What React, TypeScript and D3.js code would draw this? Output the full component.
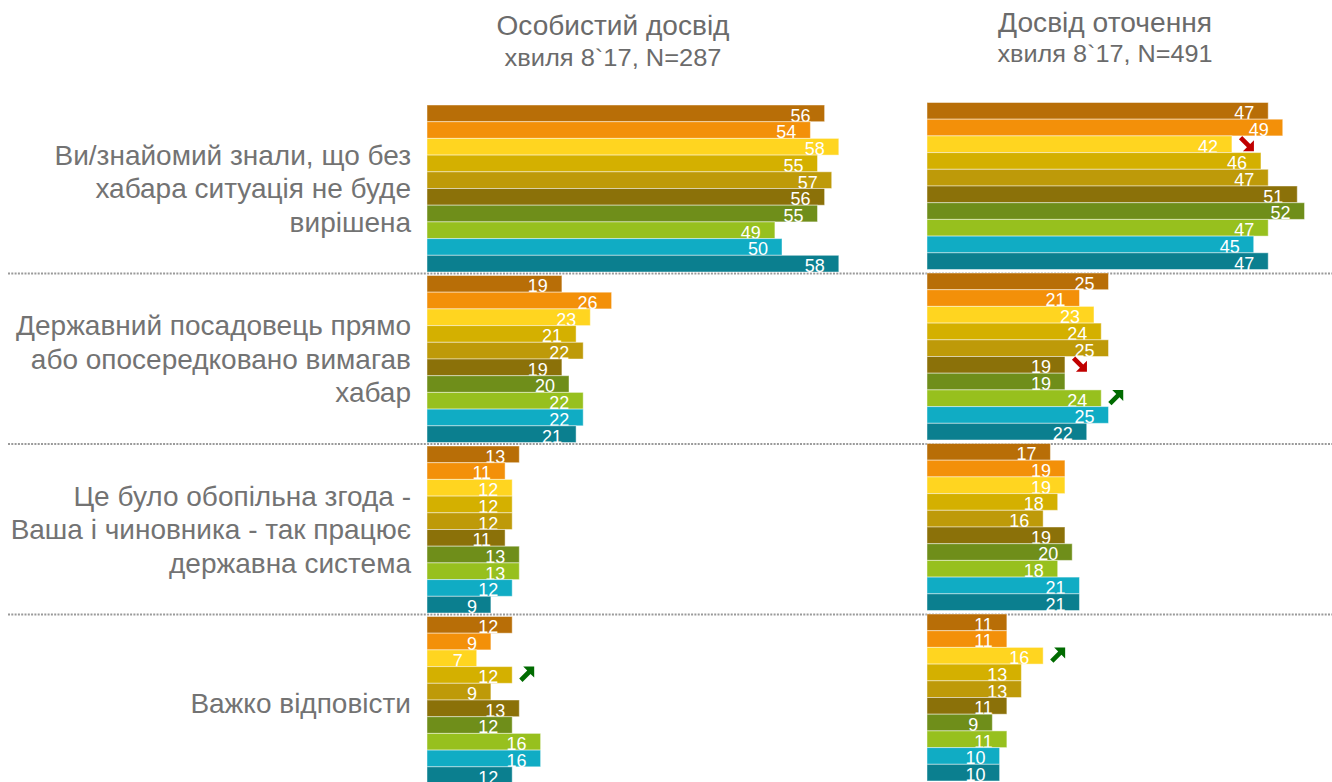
import React from "react";
import * as d3 from "d3";

const W = 1332;
const H = 782;

const categories = [
  ["Ви/знайомий знали, що без", "хабара ситуація не буде", "вирішена"],
  ["Державний посадовець прямо", "або опосередковано вимагав", "хабар"],
  ["Це було обопільна згода -", "Ваша і чиновника - так працює", "державна система"],
  ["Важко відповісти"],
];

const seriesIds = ["s1", "s2", "s3", "s4", "s5", "s6", "s7", "s8", "s9", "s10"];
const seriesColors = [
  "#B86E07", "#F39009", "#FFD520", "#D4B000", "#BE9A09",
  "#8B7109", "#6F8E1A", "#97C01E", "#10ACC4", "#0B7F8F",
];

const panelTitles = ["Особистий досвід", "Досвід оточення"];
const panelSubtitles = ["хвиля 8`17, N=287", "хвиля 8`17, N=491"];

// personal experience, per category, per series
const personal = [
  [56, 54, 58, 55, 57, 56, 55, 49, 50, 58],
  [19, 26, 23, 21, 22, 19, 20, 22, 22, 21],
  [13, 11, 12, 12, 12, 11, 13, 13, 12, 9],
  [12, 9, 7, 12, 9, 13, 12, 16, 16, 12],
];
// surroundings experience
const surroundings = [
  [47, 49, 42, 46, 47, 51, 52, 47, 45, 47],
  [25, 21, 23, 24, 25, 19, 19, 24, 25, 22],
  [17, 19, 19, 18, 16, 19, 20, 18, 21, 21],
  [11, 11, 16, 13, 13, 11, 9, 11, 10, 10],
];

// significant change markers: panel, category, series, direction
const arrows = [
  { panel: 1, cat: 0, s: 2, dir: "down" },
  { panel: 1, cat: 1, s: 5, dir: "down" },
  { panel: 1, cat: 1, s: 7, dir: "up" },
  { panel: 1, cat: 3, s: 2, dir: "up" },
  { panel: 0, cat: 3, s: 3, dir: "up" },
];

const panels = [
  { data: personal, x0: 427, k: 7.1, y0: 105, titleX: 613, titleY: 35, subY: 66, titleW: 233, subW: 217 },
  { data: surroundings, x0: 927, k: 7.26, y0: 102.5, titleX: 1105, titleY: 32, subY: 62, titleW: 214, subW: 215 },
];

const groupPitch = 170.5;
const groupH = 167;

const arrowUp = "M4,0 L15,0 L15,11 L11.3,7.3 L3.3,15.3 L0,12 L8,4 Z";
const arrowDown = "M4,15.3 L15,15.3 L15,4.3 L11.3,8 L3.3,0 L0,3.3 L8,11.3 Z";

export default function App() {
  const font = "'Liberation Sans', Arial, sans-serif";
  return (
    <svg
      width={W}
      height={H}
      style={{ position: "absolute", left: 0, top: 0, background: "#fff" }}
      fontFamily={font}
    >
      {/* separators */}
      {[1, 2, 3].map((g) => {
        const y = 105 + g * groupPitch - 2;
        return (
          <line
            key={"sep" + g}
            x1={8}
            x2={W}
            y1={y}
            y2={y}
            stroke="#9a9a9a"
            strokeWidth={2}
            strokeDasharray="2 1.3"
          />
        );
      })}

      {/* category labels */}
      {categories.map((lines, g) => {
        const cy = 105 + g * groupPitch + groupH / 2;
        const lh = 33.5;
        const top = cy - ((lines.length - 1) * lh) / 2;
        const off = lines.length === 1 ? 12.5 : 9.5;
        return (
          <text key={"cat" + g} textAnchor="end" fill="#737373" fontSize={28}>
            {lines.map((l, i) => (
              <tspan key={i} x={411} y={top + i * lh + off}>
                {l}
              </tspan>
            ))}
          </text>
        );
      })}

      {panels.map((p, pi) => {
        const x = d3.scaleLinear().domain([0, 1]).range([p.x0, p.x0 + p.k]);
        const band = d3
          .scaleBand<string>()
          .domain(seriesIds)
          .range([0, groupH])
          .paddingInner(0);
        return (
          <g key={"panel" + pi}>
            <text
              x={p.titleX}
              y={p.titleY}
              textAnchor="middle"
              fill="#6b6b6b"
              fontSize={27}
              textLength={p.titleW}
              lengthAdjust="spacingAndGlyphs"
            >
              {panelTitles[pi]}
            </text>
            <text
              x={p.titleX}
              y={p.subY}
              textAnchor="middle"
              fill="#6b6b6b"
              fontSize={24}
              textLength={p.subW}
              lengthAdjust="spacingAndGlyphs"
            >
              {panelSubtitles[pi]}
            </text>
            {p.data.map((vals, g) => {
              const gy = p.y0 + g * groupPitch;
              return (
                <g key={"g" + g}>
                  {vals.map((v, s) => {
                    const y = gy + (band(seriesIds[s]) as number);
                    const bh = band.bandwidth();
                    return (
                      <g key={"b" + s}>
                        <rect
                          x={x(0)}
                          y={y}
                          width={x(v) - x(0)}
                          height={bh}
                          fill={seriesColors[s]}
                          stroke="rgba(255,255,255,0.45)"
                          strokeWidth={1}
                        />
                        <text
                          x={x(v) - 14}
                          y={y + bh}
                          textAnchor="end"
                          fill="#fff"
                          fontSize={18}
                        >
                          {v}
                        </text>
                      </g>
                    );
                  })}
                </g>
              );
            })}
            {arrows
              .filter((a) => a.panel === pi)
              .map((a, i) => {
                const v = p.data[a.cat][a.s];
                const y = p.y0 + a.cat * groupPitch + (band(seriesIds[a.s]) as number);
                return (
                  <path
                    key={"arr" + i}
                    d={a.dir === "up" ? arrowUp : arrowDown}
                    transform={`translate(${x(v) + 7},${y})`}
                    fill={a.dir === "up" ? "#006B00" : "#C00000"}
                  />
                );
              })}
          </g>
        );
      })}
    </svg>
  );
}
